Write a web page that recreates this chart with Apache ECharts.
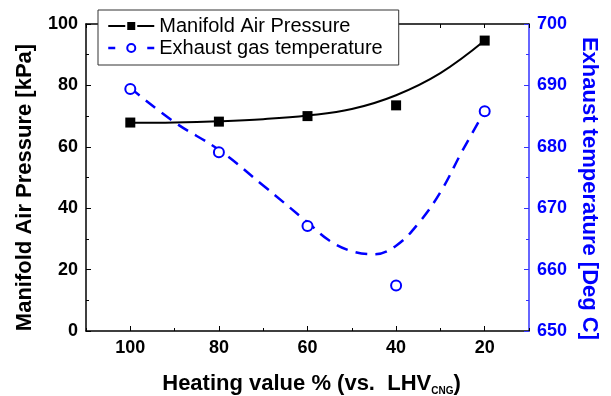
<!DOCTYPE html>
<html>
<head>
<meta charset="utf-8">
<script src="https://cdn.jsdelivr.net/npm/echarts@6/dist/echarts.min.js"></script>
<style>
html,body{margin:0;padding:0;background:#fff;}
#chart{width:611px;height:396px;}
</style>
</head>
<body>
<div id="chart"></div>
<script>
// ---- data ----
const heatingValue = [100, 80, 60, 40, 20];
const mapValues = [67.9, 68.2, 70.0, 73.5, 94.6];
const exhaustTemp = [689.4, 679.1, 667.1, 657.4, 685.8];
// fitted trend curves
const mapFitX = [100, 90, 80, 70, 60, 50, 40, 30, 20];
const mapFitY = [67.8, 67.9, 68.3, 69.0, 70.2, 72.3, 76.8, 84.0, 94.6];
const expFitX = [100, 90, 80, 70, 60, 55, 50, 45, 40, 35, 30, 25, 20];
const expFitY = [689.6, 684.0, 679.5, 673.7, 667.7, 664.7, 663.0, 662.5, 663.9, 667.5, 672.6, 679.4, 685.8];
const xMajorTicks = [100, 80, 60, 40, 20];

const zip = (a, b) => a.map((v, i) => [v, b[i]]);
const FONT = 'Liberation Sans, Arial, sans-serif';
const BLUE = '#0000ff';

const chart = echarts.init(document.getElementById('chart'), null, {renderer: 'canvas'});
const baseX = {
  type: 'value', min: 10, max: 110, inverse: true,
  splitLine: {show: false}
};
chart.setOption({
  animation: false,
  backgroundColor: '#fff',
  grid: {left: 86, right: 82, top: 24, bottom: 65, containLabel: false, outerBoundsMode: 'none'},
  legend: {
    orient: 'vertical', left: 98, top: 10,
    itemWidth: 46, itemHeight: 10, itemGap: 2,
    padding: [6, 16, 7, 9],
    borderColor: '#333', borderWidth: 1, backgroundColor: '#fff',
    textStyle: {fontSize: 20, fontFamily: FONT, color: '#000'},
    data: [
      {name: 'Manifold Air Pressure', lineStyle: {color: '#000', width: 2, opacity: 1, type: [17, 12]}},
      {name: 'Exhaust gas temperature', lineStyle: {color: BLUE, width: 2.5, opacity: 1, type: [7, 32]}}
    ]
  },
  xAxis: [
    Object.assign({}, baseX, {
      position: 'bottom', interval: 10,
      axisLine: {show: true, onZero: false, lineStyle: {color: '#000', width: 1.5}},
      axisTick: {show: true, inside: true, length: 3, lineStyle: {color: '#000', width: 1}},
      axisLabel: {
        show: true, margin: 8, color: '#000', fontSize: 18, fontWeight: 'bold', fontFamily: FONT,
        formatter: v => (xMajorTicks.indexOf(v) >= 0 ? String(v) : '')
      },
      name: 'Heating value % (vs.  LHV{sub|CNG})',
      nameLocation: 'middle', nameGap: 40,
      nameTextStyle: {
        fontSize: 22, fontWeight: 'bold', fontFamily: FONT, color: '#000',
        padding: [0, 0, 0, 8],
        rich: {sub: {fontSize: 10, fontWeight: 'bold', fontFamily: FONT, color: '#000', padding: [15, 0, 0, 0]}}
      }
    }),
    Object.assign({}, baseX, {
      position: 'bottom',
      axisLine: {show: false},
      axisTick: {show: true, inside: true, length: 5, customValues: xMajorTicks, lineStyle: {color: '#000', width: 1}},
      axisLabel: {show: false}
    }),
    Object.assign({}, baseX, {
      position: 'top', interval: 10,
      axisLine: {show: true, onZero: false, lineStyle: {color: '#000', width: 1.5}},
      axisTick: {show: true, inside: true, length: 4, lineStyle: {color: '#000', width: 1}},
      axisLabel: {show: false}
    })
  ],
  yAxis: [
    {
      type: 'value', position: 'left', min: 0, max: 100, interval: 20,
      axisLine: {show: true, onZero: false, lineStyle: {color: '#000', width: 1.5}},
      axisTick: {show: true, inside: true, length: 5, lineStyle: {color: '#000'}},
      minorTick: {show: true, splitNumber: 2, length: 3, lineStyle: {color: '#000'}},
      splitLine: {show: false},
      axisLabel: {margin: 8, color: '#000', fontSize: 18, fontWeight: 'bold', fontFamily: FONT},
      name: 'Manifold Air Pressure [kPa]',
      nameLocation: 'middle', nameRotate: 90, nameGap: 50,
      nameTextStyle: {fontSize: 22, fontWeight: 'bold', fontFamily: FONT, color: '#000', padding: [0, 20, 0, 0]}
    },
    {
      type: 'value', position: 'right', min: 650, max: 700, interval: 10,
      axisLine: {show: true, onZero: false, lineStyle: {color: '#3333ff', width: 1.5}},
      axisTick: {show: true, inside: true, length: 5, lineStyle: {color: '#3333ff'}},
      minorTick: {show: true, splitNumber: 2, length: 3, lineStyle: {color: '#3333ff'}},
      splitLine: {show: false},
      axisLabel: {margin: 8, color: BLUE, fontSize: 18, fontWeight: 'bold', fontFamily: FONT},
      name: 'Exhaust temperature [Deg C]',
      nameLocation: 'middle', nameRotate: -90, nameGap: 48,
      nameTextStyle: {fontSize: 22, fontWeight: 'bold', fontFamily: FONT, color: BLUE, padding: [0, 0, 0, 22]}
    }
  ],
  series: [
    {
      name: 'MAP fit', type: 'line', xAxisIndex: 0, yAxisIndex: 0,
      data: zip(mapFitX, mapFitY), smooth: 0.4, showSymbol: false, symbol: 'none',
      lineStyle: {color: '#000', width: 2}, z: 2, silent: true
    },
    {
      name: 'Exhaust fit', type: 'line', xAxisIndex: 0, yAxisIndex: 1,
      data: zip(expFitX, expFitY), smooth: 0.4, showSymbol: false, symbol: 'none',
      lineStyle: {color: BLUE, width: 2.5, type: [12, 8]}, z: 2, silent: true
    },
    {
      name: 'Manifold Air Pressure', type: 'line', xAxisIndex: 0, yAxisIndex: 0,
      data: zip(heatingValue, mapValues),
      symbol: 'rect', symbolSize: 10,
      itemStyle: {color: '#000'},
      lineStyle: {color: '#000', width: 0, opacity: 0}, z: 5
    },
    {
      name: 'Exhaust gas temperature', type: 'line', xAxisIndex: 0, yAxisIndex: 1,
      data: zip(heatingValue, exhaustTemp),
      symbol: 'emptyCircle', symbolSize: 10,
      itemStyle: {color: BLUE, borderColor: BLUE, borderWidth: 1.5},
      lineStyle: {color: BLUE, width: 0, opacity: 0}, z: 5
    }
  ]
});
</script>
</body>
</html>
